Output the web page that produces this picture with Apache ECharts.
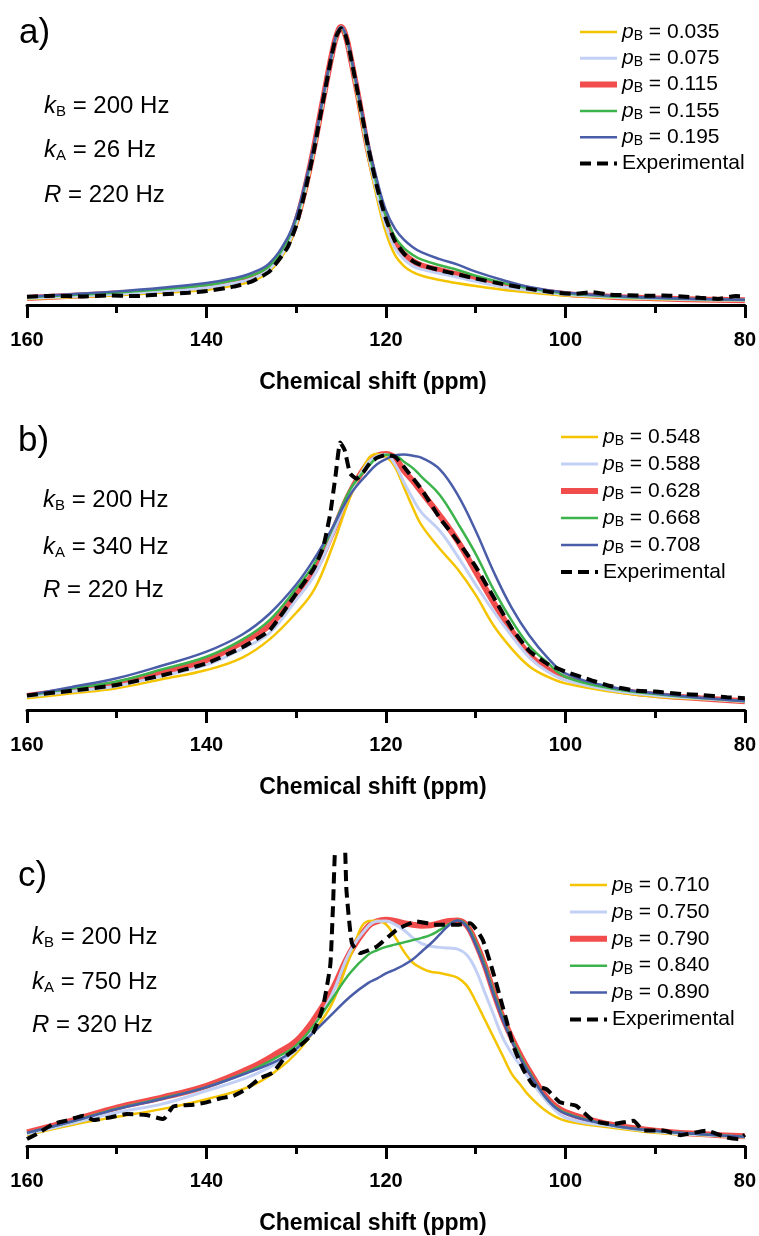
<!DOCTYPE html>
<html>
<head>
<meta charset="utf-8">
<script src="https://cdn.jsdelivr.net/npm/echarts@6.0.0/dist/echarts.min.js"></script>
<style>
  html, body { margin: 0; padding: 0; background: #ffffff; }
  #chart { width: 759px; height: 1236px; }
</style>
</head>
<body>
<div id="chart"></div>
<script>
// ---------- Panel a: kB = 200 Hz, kA = 26 Hz, R = 220 Hz ----------
const ppmA = [160,155,150,145,140,137,135,133,131,130,129,128,127,126,125.5,125,124.5,124,123,122,121,120,119,118,117,116,114,112,110,107,104,100,95,90,85,80];
const a_p0035 = [2.2,2.8,3.5,4.4,5.4,7,8.5,12,20.5,28.5,40.5,55.5,73,90,97,100,96.5,89,71.5,53.5,38.5,26,18,14,11.8,10.5,9,7.8,6.8,5.5,4.5,3.4,2.6,2.1,1.8,1.6];
const a_p0075 = [2.4,3.1,3.9,4.9,6.2,7.8,9.4,12.8,21.5,29.5,41.5,56.5,73.5,90,97,100,97,89.5,73,55,40.5,28.5,20.5,16.5,14,12.8,11.3,10,8.5,6.6,5.2,3.8,2.9,2.3,1.9,1.7];
const a_p0115 = [2.5,3.3,4.1,5.2,6.6,8.2,9.9,13.3,22,30,42,57,74,90.5,97,100,97,90,73.5,56,42,30.5,22.5,18.3,15.8,14.2,12.5,11,9.3,7.2,5.6,4.0,3.0,2.4,2.0,1.7];
const a_p0155 = [2.8,3.6,4.5,5.7,7.2,8.9,10.6,14,23,31,43,57.5,74.5,90.5,97,100,97,90.5,74,57,43,32,24.5,20.5,18,16.3,14.3,12.6,10.5,8,6,4.2,3.1,2.5,2.1,1.8];
const a_p0195 = [3.0,3.9,4.9,6.2,7.9,9.6,11.5,15,24,32,44,58,75,91,97.5,100,97.5,91,75,58.5,45,34,27.5,23.5,20.8,18.9,16.5,14.5,12,9,6.5,4.5,3.3,2.6,2.2,1.9];
const ppmExpA = [160,157,154,151,148,145,142,140,137,135,133,131,130,129,128,127,126,125.5,125,124.5,124,123,122,121,120,119,118,117,116,114,112,110,107,104,101,99,97,95,93,91,89,87,85,83,81,80];
const expA = [3.0,3.3,3.1,3.4,3.2,3.8,4.4,5.0,6.6,8.4,12,20.5,28.5,41,56,73.5,90.5,97,99.5,97,90.5,74,57,42.5,31,23,18.5,15.8,14.3,12.5,11,9.5,7.5,5.8,4.4,4.0,4.6,3.7,3.5,3.3,3.4,3.1,2.6,2.2,3.2,3.0];
const labelsA = ['0.035','0.075','0.115','0.155','0.195'];

// ---------- Panel b: kB = 200 Hz, kA = 340 Hz, R = 220 Hz ----------
const ppmB = [160,155,150,145,140,136,133,130,128,126,124,122,121,120,119,118,117,116,114,112,110,108,106,104,102,100,95,90,85,80];
const b_p0548 = [4.6,6.5,8.5,12,15.6,20.5,27.5,38,47,63.5,83,98,100,99,95,87,79,72,63,55,45,33,24,17,13,10.4,7.2,5.2,4.3,3.2];
const b_p0588 = [5.3,7.3,9.4,13.3,17.6,24,30,43,52.5,68,85,96.5,99.2,99.8,96,89,82.5,77,70,60,49,38.5,29,20.5,15,11.7,7.8,5.7,4.5,3.3];
const b_p0628 = [5.5,7.8,10.4,14.5,19.5,26.5,33,45,54,69,85,96.5,99.3,100,98.5,93.5,89.5,85,76,66,54,42,31,21.5,16,12.4,8.2,5.9,4.6,3.4];
const b_p0668 = [5.6,8.4,11.1,15.8,20.8,27.5,35,47.5,57,70.5,86,95,98.5,99.7,99.5,97,94.5,91,84,73,61,47,35,25,18.5,13,8.5,6.2,4.7,3.4];
const b_p0708 = [5.8,9,12.4,17.3,22.8,29.5,37.5,49,59,71,84,92.5,96,98,99.5,99.8,99.3,98.5,94,84,70,54,40,29,20.5,14.3,9.1,6.5,4.8,3.5];
const ppmExpB = [160,155,150,145,140,136,133,130,128,127,126.2,125.6,125.1,124.6,124,123.3,122.5,121.8,121,120,119,118,116,114,112,110,108,106,104,102,100,97,95,92,90,87,85,82,80];
const expB = [5.7,7.5,9.8,13.5,18.2,24.5,31,45.5,55.5,63.5,76.8,92,104.5,101.5,92.5,90.3,93,96.4,98.5,99.6,99,95,86,75,66,56,44,32,23,18,15,11.5,9.4,7.5,7.2,6.2,5.9,5,4.6];
const labelsB = ['0.548','0.588','0.628','0.668','0.708'];

// ---------- Panel c: kB = 200 Hz, kA = 750 Hz, R = 320 Hz ----------
const ppmC = [160,155,150,145,140,135,132,130,128,126,124,122,121,120,119,118,117,116,115,114,113,112,111,110,109,108,107,106,105,104,102,100,95,90,85,80];
const c_p0710 = [4.8,9.3,12.9,16.3,20.7,26.6,33.9,41,51,63,83.5,99.4,99.6,98,92.5,86,81,78.5,77,76.5,75.6,74.3,71,64,56,48,40,32,27,22,15,11.2,8.2,5.9,4.8,3.9];
const c_p0750 = [5.3,10,14.8,18.5,24.4,31,37,42.5,53,67,86,97,99.3,99.5,98,95.5,92,89.5,88.3,87.8,87.5,87,84.5,78,68,58,48,41,35.5,29.7,19.5,12.6,8.8,6.3,5,4];
const c_p0790 = [6,11.2,17,21.4,26.6,34.7,41.3,46.4,56,69,85.5,97,99.3,100,99.5,98.5,97.8,97.4,97.6,98.5,99.5,99.7,97.5,90,80,68,57,48,40,33,21,15,9.5,6.8,5.3,4.3];
const c_p0840 = [5.8,10.8,16.5,21,26,33.5,39.5,44.5,53.5,65,76.5,84.5,86.5,88,89,90,91,92,93.3,95.5,98,99.7,97.5,90,80,68,57,47.5,39.5,32.5,20.5,14.6,9.3,6.7,5.2,4.1];
const c_p0890 = [5.8,10.8,16.3,20.8,26,33,38,43,50.5,58.3,66,72,74,76.3,78,80,82.5,86,89.5,93.5,97.5,99.7,97,89,79,67,56,46.5,38.5,32,20.5,14.3,9.3,6.7,5.2,4.1];
const ppmExpC = [160,158.6,157.1,155.6,153.7,152.6,150.8,148.9,146.7,144.8,143.7,141.8,140,138.5,137,135.5,134,132.6,131.1,129.6,128.1,127,126.2,125.9,125.5,124.7,124.4,123.8,122.9,121,118.8,116.6,114.4,112.1,110.6,109.2,108,107.3,106.6,105.8,104.7,103.6,102.1,100.6,98.8,96.9,94.7,92.4,91.3,89.1,87.2,84.3,82,80.7,80];
const expC = [3.1,6,9.7,11.2,13.4,11.5,12.6,14.1,13.7,11.9,17.5,18.1,19.3,21,22.2,25.4,30,32.5,39.8,44.2,50.1,61.8,80,106,140,140,113,89.7,85.3,88.2,95.6,99.3,97.8,97.8,98.5,91,76,66,56,44.2,33.9,27,25.1,19.3,17.8,11.2,9.7,11.2,6.8,6.8,4.8,6.8,3.8,3.1,5];
const labelsC = ['0.710','0.750','0.790','0.840','0.890'];

// Axis ticks (ppm)
const xTickMin = 80, xTickMax = 160, xTickStep = 20;

// ---------- styling ----------
const FONT = '"Liberation Sans", Arial, Helvetica, sans-serif';
const COLORS = ['#F5C400', '#C3D0F5', '#F24D4D', '#3CB44B', '#4A5DA8'];
const WIDTHS = [2.5, 3, 6, 2.5, 2.5];
const EXP_NAME = 'Experimental';

const panels = [
  { ppm: ppmA, curves: [a_p0035, a_p0075, a_p0115, a_p0155, a_p0195], labels: labelsA, expX: ppmExpA, expY: expA,
    top: 13.1, height: 291.9, yMax: 105,
    legend: { left: 577, top: 21, gap: 4.3 },
    letter: { text: 'a)', left: 19, top: 16 },
    notes: { left: 44, tops: [93, 137, 182], kA: '26', R: '220' } },
  { ppm: ppmB, curves: [b_p0548, b_p0588, b_p0628, b_p0668, b_p0708], labels: labelsB, expX: ppmExpB, expY: expB,
    top: 428.4, height: 281.6, yMax: 110,
    legend: { left: 558, top: 426, gap: 5 },
    letter: { text: 'b)', left: 18, top: 424 },
    notes: { left: 43, tops: [487, 534, 577], kA: '340', R: '220' } },
  { ppm: ppmC, curves: [c_p0710, c_p0750, c_p0790, c_p0840, c_p0890], labels: labelsC, expX: ppmExpC, expY: expC,
    top: 851.9, height: 295.1, yMax: 130,
    legend: { left: 567, top: 874, gap: 4.9 },
    letter: { text: 'c)', left: 18, top: 859 },
    notes: { left: 32, tops: [924, 969, 1012], kA: '750', R: '320' } }
];

const zip = (xs, ys) => xs.map((x, i) => [x, ys[i]]);

const grid = [], xAxis = [], yAxis = [], series = [], legend = [], title = [];

const noteRich = {
  k: { fontFamily: FONT, fontSize: 24, fontStyle: 'italic', color: '#000', lineHeight: 26 },
  s: { fontFamily: FONT, fontSize: 15, color: '#000', lineHeight: 10, verticalAlign: 'bottom' },
  t: { fontFamily: FONT, fontSize: 24, color: '#000', lineHeight: 26 }
};

panels.forEach((p, gi) => {
  grid.push({ left: 27, right: 14, top: p.top, height: p.height, containLabel: false });
  xAxis.push({
    gridIndex: gi, type: 'value', inverse: true,
    min: xTickMin, max: xTickMax, interval: xTickStep,
    axisLine: { show: true, onZero: false, lineStyle: { color: '#000', width: 3 } },
    axisTick: { show: true, length: 13, lineStyle: { color: '#000', width: 3 } },
    minorTick: { show: true, splitNumber: 2, length: 8, lineStyle: { color: '#000', width: 3 } },
    splitLine: { show: false }, minorSplitLine: { show: false },
    axisLabel: { margin: 25, color: '#000', fontSize: 20, fontWeight: 'bold', fontFamily: FONT },
    name: 'Chemical shift (ppm)', nameLocation: 'middle', nameGap: 66,
    nameTextStyle: { color: '#000', fontSize: 23, fontWeight: 'bold', fontFamily: FONT, padding: [0, 26, 0, 0] }
  });
  yAxis.push({ gridIndex: gi, type: 'value', min: 0, max: p.yMax, show: false });

  // red (thick) curve drawn first so the thinner fits stay visible on top
  const order = [2, 0, 1, 3, 4];
  order.forEach(ci => {
    series.push({
      name: p.labels[ci], type: 'line', xAxisIndex: gi, yAxisIndex: gi,
      data: zip(p.ppm, p.curves[ci]), showSymbol: false, symbol: 'none',
      smooth: 0.4, lineStyle: { color: COLORS[ci], width: WIDTHS[ci] },
      itemStyle: { color: COLORS[ci] }, silent: true, z: 2
    });
  });
  series.push({
    name: EXP_NAME, type: 'line', xAxisIndex: gi, yAxisIndex: gi,
    data: zip(p.expX, p.expY), showSymbol: false, symbol: 'none',
    smooth: 0.15, lineStyle: { color: '#000', width: 4, type: [11, 6], cap: 'butt' },
    itemStyle: { color: '#000' }, silent: true, z: 3
  });

  legend.push({
    orient: 'vertical', left: p.legend.left, top: p.legend.top, padding: 0,
    itemWidth: 37, itemHeight: 14, itemGap: p.legend.gap,
    data: p.labels.concat([EXP_NAME]), selectedMode: false,
    lineStyle: { width: 'inherit' },
    itemStyle: { opacity: 0 },
    formatter: n => n === EXP_NAME ? n : '{p|p}{b|B}{v| = ' + n + '}',
    textStyle: {
      color: '#000', fontSize: 21, fontFamily: FONT, lineHeight: 22,
      rich: {
        p: { fontFamily: FONT, fontSize: 21, fontStyle: 'italic', color: '#000', lineHeight: 22 },
        b: { fontFamily: FONT, fontSize: 14, color: '#000', lineHeight: 12, verticalAlign: 'bottom' },
        v: { fontFamily: FONT, fontSize: 21, color: '#000', lineHeight: 22 }
      }
    }
  });

  title.push({ text: p.letter.text, left: p.letter.left, top: p.letter.top, padding: 0,
    textStyle: { fontFamily: FONT, fontSize: 35, fontWeight: 'normal', color: '#000' } });
  const rows = [
    '{k|k}{s|B}{t| = 200 Hz}',
    '{k|k}{s|A}{t| = ' + p.notes.kA + ' Hz}',
    '{k|R}{t| = ' + p.notes.R + ' Hz}'
  ];
  rows.forEach((r, ri) => {
    title.push({ text: r, left: p.notes.left, top: p.notes.tops[ri], padding: 0,
      textStyle: { fontFamily: FONT, fontSize: 24, fontWeight: 'normal', color: '#000', rich: noteRich } });
  });
});

const chart = echarts.init(document.getElementById('chart'), null, { renderer: 'canvas' });
chart.setOption({
  animation: false,
  backgroundColor: '#ffffff',
  textStyle: { fontFamily: FONT },
  grid, xAxis, yAxis, series, legend, title
});
</script>
</body>
</html>
